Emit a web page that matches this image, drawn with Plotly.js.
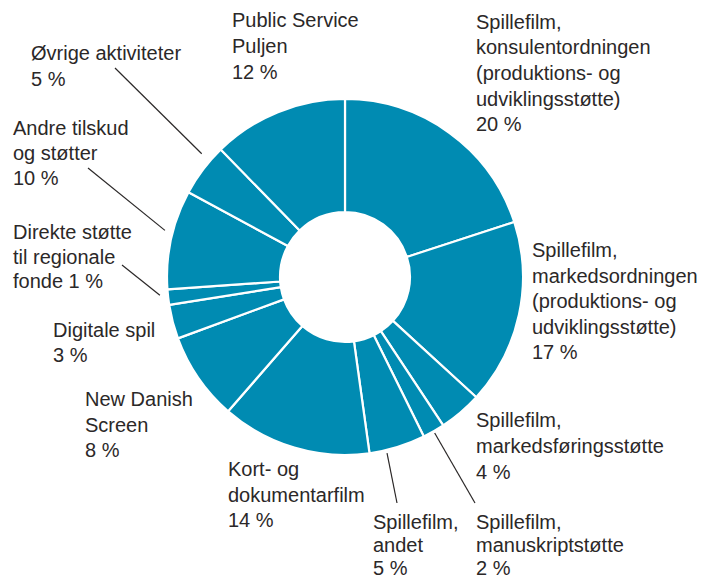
<!DOCTYPE html>
<html>
<head>
<meta charset="utf-8">
<script src="https://cdn.plot.ly/plotly-3.0.1.min.js"></script>
<style>html,body{margin:0;padding:0;background:#fff;}#chart{width:702px;height:578px;}</style>
</head>
<body>
<div id="chart"></div>
<script>
// Categories in clockwise order starting at 12 o'clock ("|" = line break)
var categories = [
  "Spillefilm,|konsulentordningen|(produktions- og|udviklingsstøtte)",
  "Spillefilm,|markedsordningen|(produktions- og|udviklingsstøtte)",
  "Spillefilm,|markedsføringsstøtte",
  "Spillefilm,|manuskriptstøtte",
  "Spillefilm,|andet",
  "Kort- og|dokumentarfilm",
  "New Danish|Screen",
  "Digitale spil",
  "Direkte støtte|til regionale|fonde",
  "Andre tilskud|og støtter",
  "Øvrige aktiviteter",
  "Public Service|Puljen"
];
// Slice sizes (share, %)
var values = [20.0, 16.8, 3.9, 2.0, 5.1, 13.6, 8.0, 3.1, 1.4, 9.0, 4.8, 12.3];
// Printed percentages
var pctLabels = ["20", "17", "4", "2", "5", "14", "8", "3", "1", "10", "5", "12"];
// Percentage printed on the same line as the name
var pctSameLine = [false, false, false, false, false, false, false, false, true, false, false, false];

// Layout (pixels)
var W = 702, H = 578;
var CX = 345, CY = 277, R = 178;
// Label anchors: left x, first line centre y, line spacing
var labelPos = [
  [476, 22, 25.5], [532, 250, 25.5], [476, 420, 26], [476, 522, 23], [373, 522, 23], [228, 469, 25.5],
  [85, 399, 25.5], [53, 330, 25], [13, 232, 24.5], [13, 128, 25], [31, 53, 26.5], [232, 20, 26]
];
// Leader lines: label-side end point (pixels); null = no leader
var leaderEnd = [null, null, null, [475, 503], [397, 503], null, null, null,
  [122, 265], [88, 168], [115, 68], null];
var leaderR = [0, 0, 0, 180, 181, 0, 0, 0, 186, 186, 189, 0];
var leaderFrac = [0, 0, 0, 0.5, 0.7, 0, 0, 0, 0.67, 0.57, 0.71, 0];

var FS = 20;
var FONT = {family: "Liberation Sans, Arial, sans-serif", size: FS, color: "#2b2828"};
var px2x = function (p) { return p / W; };
var px2y = function (p) { return 1 - p / H; };

var total = values.reduce(function (a, b) { return a + b; }, 0);
var annotations = [];
var shapes = [];
var cum = 0;
for (var i = 0; i < values.length; i++) {
  var ang = (cum + values[i] * leaderFrac[i]) / total * 2 * Math.PI;
  cum += values[i];
  var lines = categories[i].split("|");
  var pct = pctLabels[i] + " %";
  if (pctSameLine[i]) lines[lines.length - 1] += " " + pct; else lines.push(pct);
  for (var k = 0; k < lines.length; k++) {
    annotations.push({
      xref: "paper", yref: "paper",
      x: px2x(labelPos[i][0] - 2), y: px2y(labelPos[i][1] + k * labelPos[i][2]),
      xanchor: "left", yanchor: "middle", align: "left",
      showarrow: false, text: lines[k], font: FONT
    });
  }
  if (leaderEnd[i]) {
    var sx = CX + leaderR[i] * Math.sin(ang);
    var sy = CY - leaderR[i] * Math.cos(ang);
    shapes.push({
      type: "line", xref: "paper", yref: "paper",
      x0: px2x(leaderEnd[i][0]), y0: px2y(leaderEnd[i][1]),
      x1: px2x(sx), y1: px2y(sy),
      line: {color: "#2b2828", width: 1.2}
    });
  }
}

var trace = {
  type: "pie",
  values: values,
  labels: categories.map(function (c) { return c.replace(/\|/g, " "); }),
  sort: false,
  direction: "clockwise",
  rotation: 0,
  hole: 0.365,
  textinfo: "none",
  hoverinfo: "label+percent",
  marker: {colors: values.map(function () { return "#008bb2"; }), line: {color: "#ffffff", width: 2.2}},
  domain: {x: [px2x(CX - R), px2x(CX + R)], y: [px2y(CY + R), px2y(CY - R)]},
  showlegend: false
};

var layout = {
  width: W, height: H,
  margin: {l: 0, r: 0, t: 0, b: 0},
  paper_bgcolor: "#ffffff",
  showlegend: false,
  annotations: annotations,
  shapes: shapes
};

Plotly.newPlot("chart", [trace], layout, {displayModeBar: false, staticPlot: true});
</script>
</body>
</html>
